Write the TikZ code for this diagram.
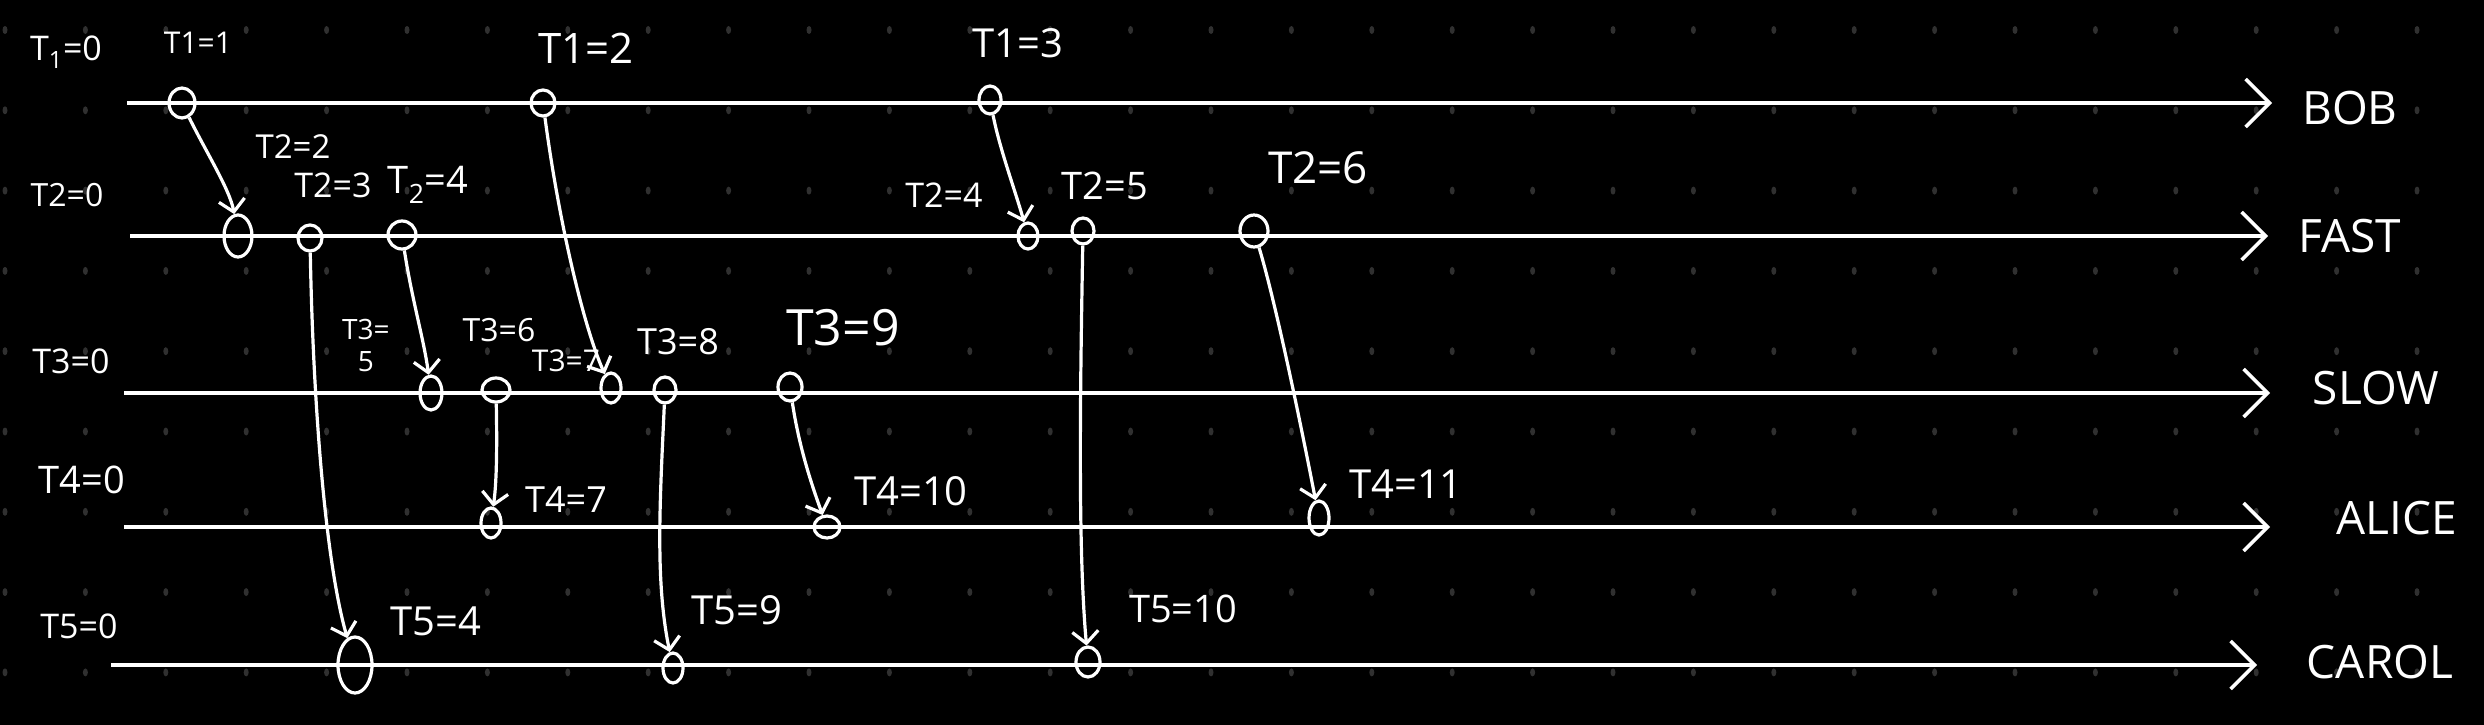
\documentclass[tikz,border=0pt]{standalone}
\usepackage{fontspec}
\setmainfont{Open Sans}
\usetikzlibrary{arrows.meta,shapes.geometric}
\definecolor{dotc}{RGB}{48,48,48}
\begin{document}
\begin{tikzpicture}[x=1pt,y=-1pt,
  ev/.style={draw=white,ellipse,line width=3.2pt,inner sep=0pt,minimum width=24pt,minimum height=28pt},
  msg/.style={draw=white,line width=3.2pt,-{Straight Barb[length=12pt,width=26pt,line width=3.2pt]}},
  tl/.style={draw=white,line width=4.5pt,-{Straight Barb[length=24pt,width=48pt,line width=3.5pt]}},
  lab/.style={text=white,inner sep=0pt,font=\fontsize{34}{40}\selectfont},
  proc/.style={text=white,inner sep=0pt,font=\fontsize{46}{52}\selectfont}]
\useasboundingbox (0,0) rectangle (2484,725);
\fill[black] (0,0) rectangle (2484,725);
% dot grid
\foreach \i in {0,...,30}{
  \foreach \j in {0,...,8}{
    \fill[dotc] ({5+80.4*\i},{30+80.3*\j}) ellipse [x radius=2.5pt, y radius=4pt];
  }
}
% timelines
\coordinate (bobS) at (127,103);  \coordinate (bobE) at (2272,103);
\coordinate (fastS) at (130,236); \coordinate (fastE) at (2268,236);
\coordinate (slowS) at (124,393); \coordinate (slowE) at (2270,393);
\coordinate (aliS) at (124,527);  \coordinate (aliE) at (2270,527);
\coordinate (carS) at (111,665);  \coordinate (carE) at (2257,665);
\draw[tl] (bobS) -- (bobE);
\draw[tl] (fastS) -- (fastE);
\draw[tl] (slowS) -- (slowE);
\draw[tl] (aliS) -- (aliE);
\draw[tl] (carS) -- (carE);
% process names
\node[proc] (nbob) at (2350,108) {BOB};
\node[proc] (nfast) at (2350,236) {FAST};
\node[proc] (nslow) at (2376,388) {SLOW};
\node[proc] (nali) at (2397,518) {ALICE};
\node[proc] (ncar) at (2380,662) {CAROL};
% events
\node[ev,minimum width=26pt,minimum height=30pt] (b1) at (182,103) {};
\node[ev,minimum width=24pt,minimum height=26pt] (b2) at (543,103) {};
\node[ev,minimum width=22pt,minimum height=28pt] (b3) at (990,100) {};
\node[ev,minimum width=28pt,minimum height=42pt] (f1) at (238,236) {};
\node[ev,minimum width=24pt,minimum height=26pt] (f2) at (310,238) {};
\node[ev,minimum width=28pt,minimum height=28pt] (f3) at (402,235) {};
\node[ev,minimum width=20pt,minimum height=26pt] (f4) at (1028,236) {};
\node[ev,minimum width=22pt,minimum height=26pt] (f5) at (1083,231) {};
\node[ev,minimum width=28pt,minimum height=32pt] (f6) at (1254,231) {};
\node[ev,minimum width=22pt,minimum height=34pt] (s1) at (431,393) {};
\node[ev,minimum width=28pt,minimum height=24pt] (s2) at (496,390) {};
\node[ev,minimum width=20pt,minimum height=30pt] (s3) at (611,388) {};
\node[ev,minimum width=22pt,minimum height=26pt] (s4) at (665,390) {};
\node[ev,minimum width=24pt,minimum height=28pt] (s5) at (790,387) {};
\node[ev,minimum width=20pt,minimum height=30pt] (a1) at (491,523) {};
\node[ev,minimum width=26pt,minimum height=22pt] (a2) at (827,527) {};
\node[ev,minimum width=20pt,minimum height=34pt] (a3) at (1319,518) {};
\node[ev,minimum width=34pt,minimum height=56pt] (c1) at (355,665) {};
\node[ev,minimum width=20pt,minimum height=30pt] (c2) at (673,668) {};
\node[ev,minimum width=24pt,minimum height=30pt] (c3) at (1088,662) {};
% messages
\draw[msg] (b1) .. controls (205,150) and (230,190) .. (f1);
\draw[msg] (b2) .. controls (560,230) and (585,330) .. (s3);
\draw[msg] (b3) .. controls (1000,150) and (1015,190) .. (f4);
\draw[msg] (f2) .. controls (313,400) and (325,560) .. (c1);
\draw[msg] (f3) .. controls (412,300) and (424,340) .. (s1);
\draw[msg] (f5) .. controls (1080,400) and (1078,550) .. (c3);
\draw[msg] (f6) .. controls (1275,300) and (1300,420) .. (a3);
\draw[msg] (s2) .. controls (497,440) and (497,480) .. (a1);
\draw[msg] (s4) .. controls (660,500) and (655,580) .. (c2);
\draw[msg] (s5) .. controls (798,440) and (808,475) .. (a2);
% labels
\node[lab] (t10) at (66,52) {T\textsubscript{1}=0};
\node[lab,font=\fontsize{30}{36}\selectfont] (t11) at (198,43) {T1=1};
\node[lab,font=\fontsize{42}{48}\selectfont] (t12) at (586,48) {T1=2};
\node[lab,font=\fontsize{40}{46}\selectfont] (t13) at (1018,43) {T1=3};
\node[lab,font=\fontsize{32}{38}\selectfont] (t20) at (67,195) {T2=0};
\node[lab,font=\fontsize{33}{38}\selectfont] (t22) at (293,147) {T2=2};
\node[lab] (t23) at (333,185) {T2=3};
\node[lab,font=\fontsize{38}{44}\selectfont] (t24) at (428,185) {T\textsubscript{2}=4};
\node[lab] (t24b) at (944,195) {T2=4};
\node[lab,font=\fontsize{38}{44}\selectfont] (t25) at (1105,186) {T2=5};
\node[lab,font=\fontsize{44}{50}\selectfont] (t26) at (1318,168) {T2=6};
\node[lab] (t30) at (71,361) {T3=0};
\node[lab,font=\fontsize{28}{32}\selectfont,align=center] (t35) at (366,345) {T3=\\5};
\node[lab,font=\fontsize{32}{38}\selectfont] (t36) at (499,330) {T3=6};
\node[lab,font=\fontsize{30}{36}\selectfont] (t37) at (566,361) {T3=7};
\node[lab,font=\fontsize{36}{42}\selectfont] (t38) at (678,342) {T3=8};
\node[lab,font=\fontsize{50}{56}\selectfont] (t39) at (843,328) {T3=9};
\node[lab,font=\fontsize{38}{44}\selectfont] (t40) at (82,480) {T4=0};
\node[lab,font=\fontsize{36}{42}\selectfont] (t47) at (566,500) {T4=7};
\node[lab,font=\fontsize{40}{46}\selectfont] (t410) at (911,491) {T4=10};
\node[lab,font=\fontsize{40}{46}\selectfont] (t411) at (1406,484) {T4=11};
\node[lab] (t50) at (79,626) {T5=0};
\node[lab,font=\fontsize{40}{46}\selectfont] (t54) at (436,621) {T5=4};
\node[lab,font=\fontsize{40}{46}\selectfont] (t59) at (737,610) {T5=9};
\node[lab,font=\fontsize{38}{44}\selectfont] (t510) at (1183,609) {T5=10};
\end{tikzpicture}
\end{document}
